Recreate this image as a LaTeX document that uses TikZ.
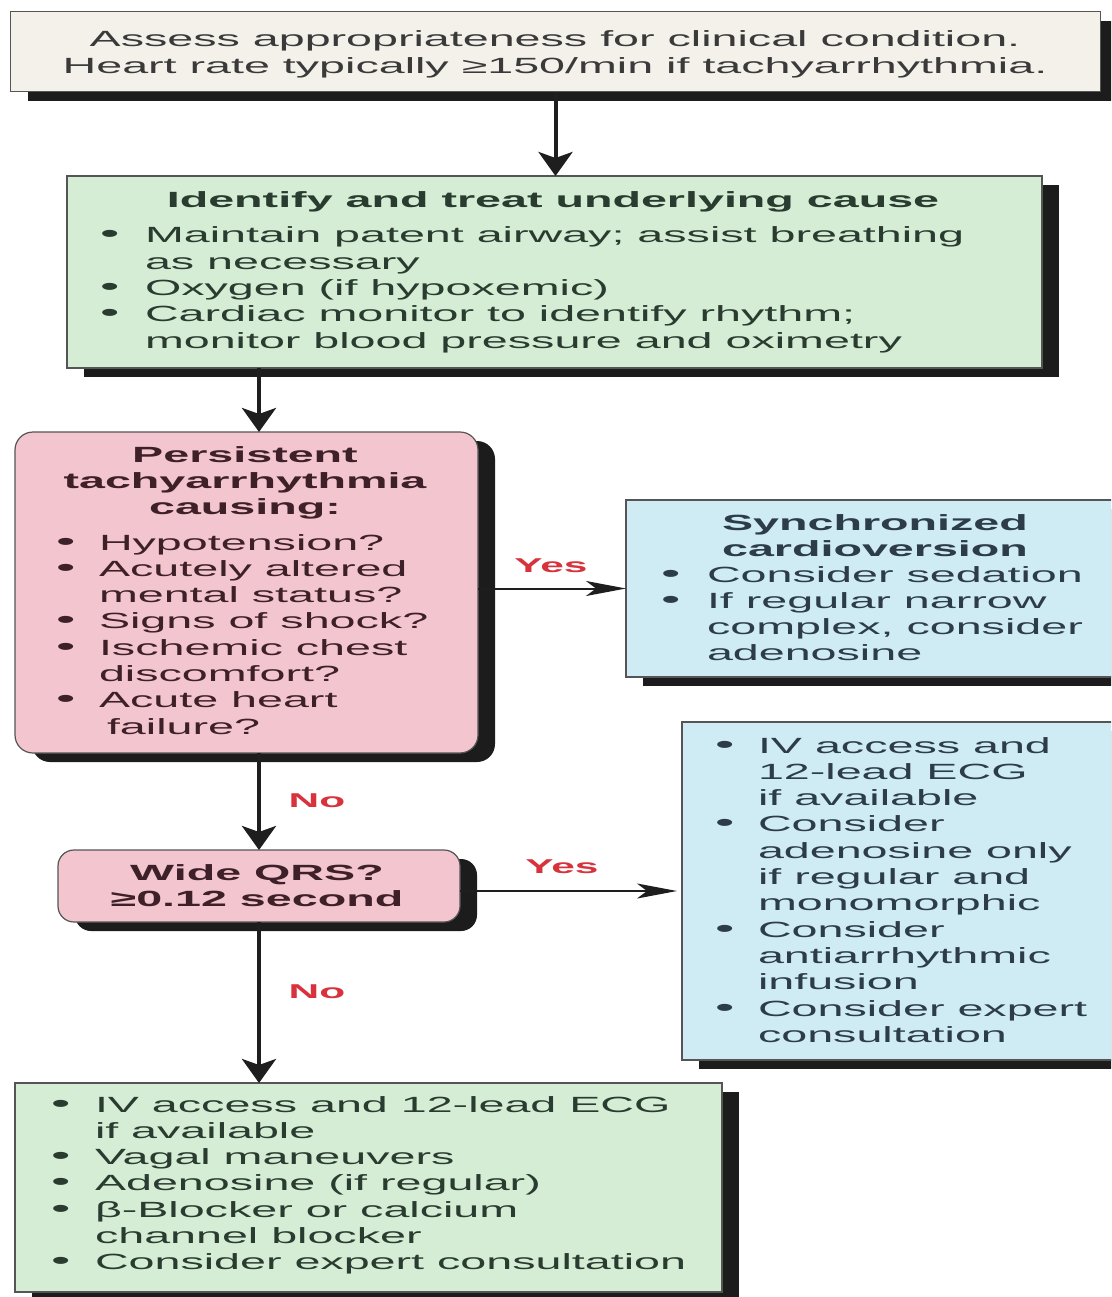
\documentclass[tikz,border=0pt]{standalone}
\usepackage{fontspec}
\setmainfont{Liberation Sans}[FakeStretch=2.12]
\usetikzlibrary{arrows.meta,shadows}
\definecolor{topfill}{HTML}{F4F1EA}
\definecolor{toptext}{HTML}{3A3A3A}
\definecolor{greenfill}{HTML}{D5EDD5}
\definecolor{greentext}{HTML}{2A3B30}
\definecolor{pinkfill}{HTML}{F3C5CE}
\definecolor{pinktext}{HTML}{3E2029}
\definecolor{bluefill}{HTML}{CFEBF4}
\definecolor{bluetext}{HTML}{2D3D47}
\definecolor{labred}{HTML}{D8323C}
\definecolor{borderc}{HTML}{555555}
\definecolor{shadowc}{HTML}{1C1C1C}
\definecolor{arrowc}{HTML}{1E1E1E}
\newlength{\bind}
\newcommand{\bitem}[1]{\noindent\makebox[\bind][l]{\fontsize{26}{26.3}\selectfont •}#1\par}
\newcommand{\citem}[1]{\noindent\hspace*{\bind}#1\par}
\begin{document}
\begin{tikzpicture}[x=1pt,y=-1pt,
  box/.style={draw=borderc, line width=1.2pt, anchor=north west, inner sep=0pt, outer sep=0pt,
    drop shadow={shadow xshift=17pt, shadow yshift=-9pt, fill=shadowc, opacity=1}},
  tc/.style={anchor=base, inner sep=0pt, outer sep=0pt, font=\fontsize{22}{26.3}\selectfont},
  tl/.style={anchor=base west, inner sep=0pt, outer sep=0pt, font=\fontsize{22}{26.3}\selectfont},
  lab/.style={anchor=base, inner sep=0pt, text=labred, font=\fontsize{20}{24}\selectfont\bfseries},
  varrow/.style={draw=arrowc, line width=4pt, -{Stealth[length=24pt,width=34pt,inset=6pt]}},
  harrow/.style={draw=arrowc, line width=2pt, -{Stealth[length=40pt,width=15pt,inset=10pt]}}]
\path[use as bounding box] (0,0) rectangle (1111,1297);
\clip (0,0) rectangle (1111,1297);
\fill[white] (0,0) rectangle (1111,1297);

% boxes
\node[box, fill=topfill, minimum width=1090pt, minimum height=80pt] (top) at (10.5,11.7) {};
\node[box, fill=greenfill, minimum width=975pt, minimum height=192pt] (cause) at (67,176) {};
\node[box, fill=pinkfill, rounded corners=18pt, minimum width=463pt, minimum height=321pt] (persist) at (15,432) {};
\node[box, fill=bluefill, minimum width=520pt, minimum height=177pt] (sync) at (626,500) {};
\node[box, fill=pinkfill, rounded corners=16pt, minimum width=402pt, minimum height=72pt] (wide) at (58,850) {};
\node[box, fill=bluefill, minimum width=470pt, minimum height=338pt] (wyes) at (682,722) {};
\node[box, fill=greenfill, minimum width=707pt, minimum height=209pt] (narrow) at (15,1083) {};

% texts
\node[tc, text=toptext] (top-t) at (555,47) {\parbox[t]{1100pt}{\centering Assess appropriateness for clinical condition.\\Heart rate typically ≥150/min if tachyarrhythmia.}};

\node[tc, text=greentext] (cause-h) at (553,208) {\bfseries Identify and treat underlying cause};
\node[tl, text=greentext] (cause-t) at (100,243) {\setlength{\bind}{45pt}\parbox[t]{950pt}{%
\bitem{Maintain patent airway; assist breathing}
\citem{as necessary}
\bitem{Oxygen (if hypoxemic)}
\bitem{Cardiac monitor to identify rhythm;}
\citem{monitor blood pressure and oximetry}}};

\node[tc, text=pinktext] (persist-h) at (245,462) {\parbox[t]{440pt}{\centering\bfseries Persistent\\tachyarrhythmia\\causing:}};
\node[tl, text=pinktext] (persist-t) at (56,550) {\setlength{\bind}{43pt}\parbox[t]{440pt}{%
\bitem{Hypotension?}
\bitem{Acutely altered}
\citem{mental status?}
\bitem{Signs of shock?}
\bitem{Ischemic chest}
\citem{discomfort?}
\bitem{Acute heart}
\citem{\hspace*{8pt}failure?}}};

\node[tc, text=bluetext] (sync-h) at (875,530) {\parbox[t]{500pt}{\centering\bfseries Synchronized\\cardioversion}};
\node[tl, text=bluetext] (sync-t) at (661,582) {\setlength{\bind}{46pt}\parbox[t]{500pt}{%
\bitem{Consider sedation}
\bitem{If regular narrow}
\citem{complex, consider}
\citem{adenosine}}};

\node[tc, text=pinktext] (wide-t) at (257,880) {\parbox[t]{400pt}{\centering\bfseries Wide QRS?\\≥0.12 second}};

\node[tl, text=bluetext] (wyes-t) at (715,753) {\setlength{\bind}{43pt}\parbox[t]{420pt}{%
\bitem{IV access and}
\citem{12-lead ECG}
\citem{if available}
\bitem{Consider}
\citem{adenosine only}
\citem{if regular and}
\citem{monomorphic}
\bitem{Consider}
\citem{antiarrhythmic}
\citem{infusion}
\bitem{Consider expert}
\citem{consultation}}};

\node[tl, text=greentext] (narrow-t) at (51,1112) {\setlength{\bind}{44pt}\parbox[t]{700pt}{%
\bitem{IV access and 12-lead ECG}
\citem{if available}
\bitem{Vagal maneuvers}
\bitem{Adenosine (if regular)}
\bitem{β-Blocker or calcium}
\citem{channel blocker}
\bitem{Consider expert consultation}}};

% connectors
\coordinate (xl) at (259,0);
\draw[varrow] (top.south) -- (top.south |- cause.north);
\draw[varrow] (cause.south -| xl) -- (persist.north -| xl);
\draw[varrow] (persist.south -| xl) -- (wide.north -| xl);
\draw[varrow] (wide.south -| xl) -- (narrow.north -| xl);
\draw[harrow] (persist.east |- sync.west) -- (sync.west);
\draw[harrow] (wide.east |- wyes.west) -- ([xshift=-5pt]wyes.west);

% labels
\node[lab] (yes1) at (551,572) {Yes};
\node[lab] (yes2) at (562,873) {Yes};
\node[lab] (no1) at (317,807) {No};
\node[lab] (no2) at (317,998) {No};
\end{tikzpicture}
\end{document}
